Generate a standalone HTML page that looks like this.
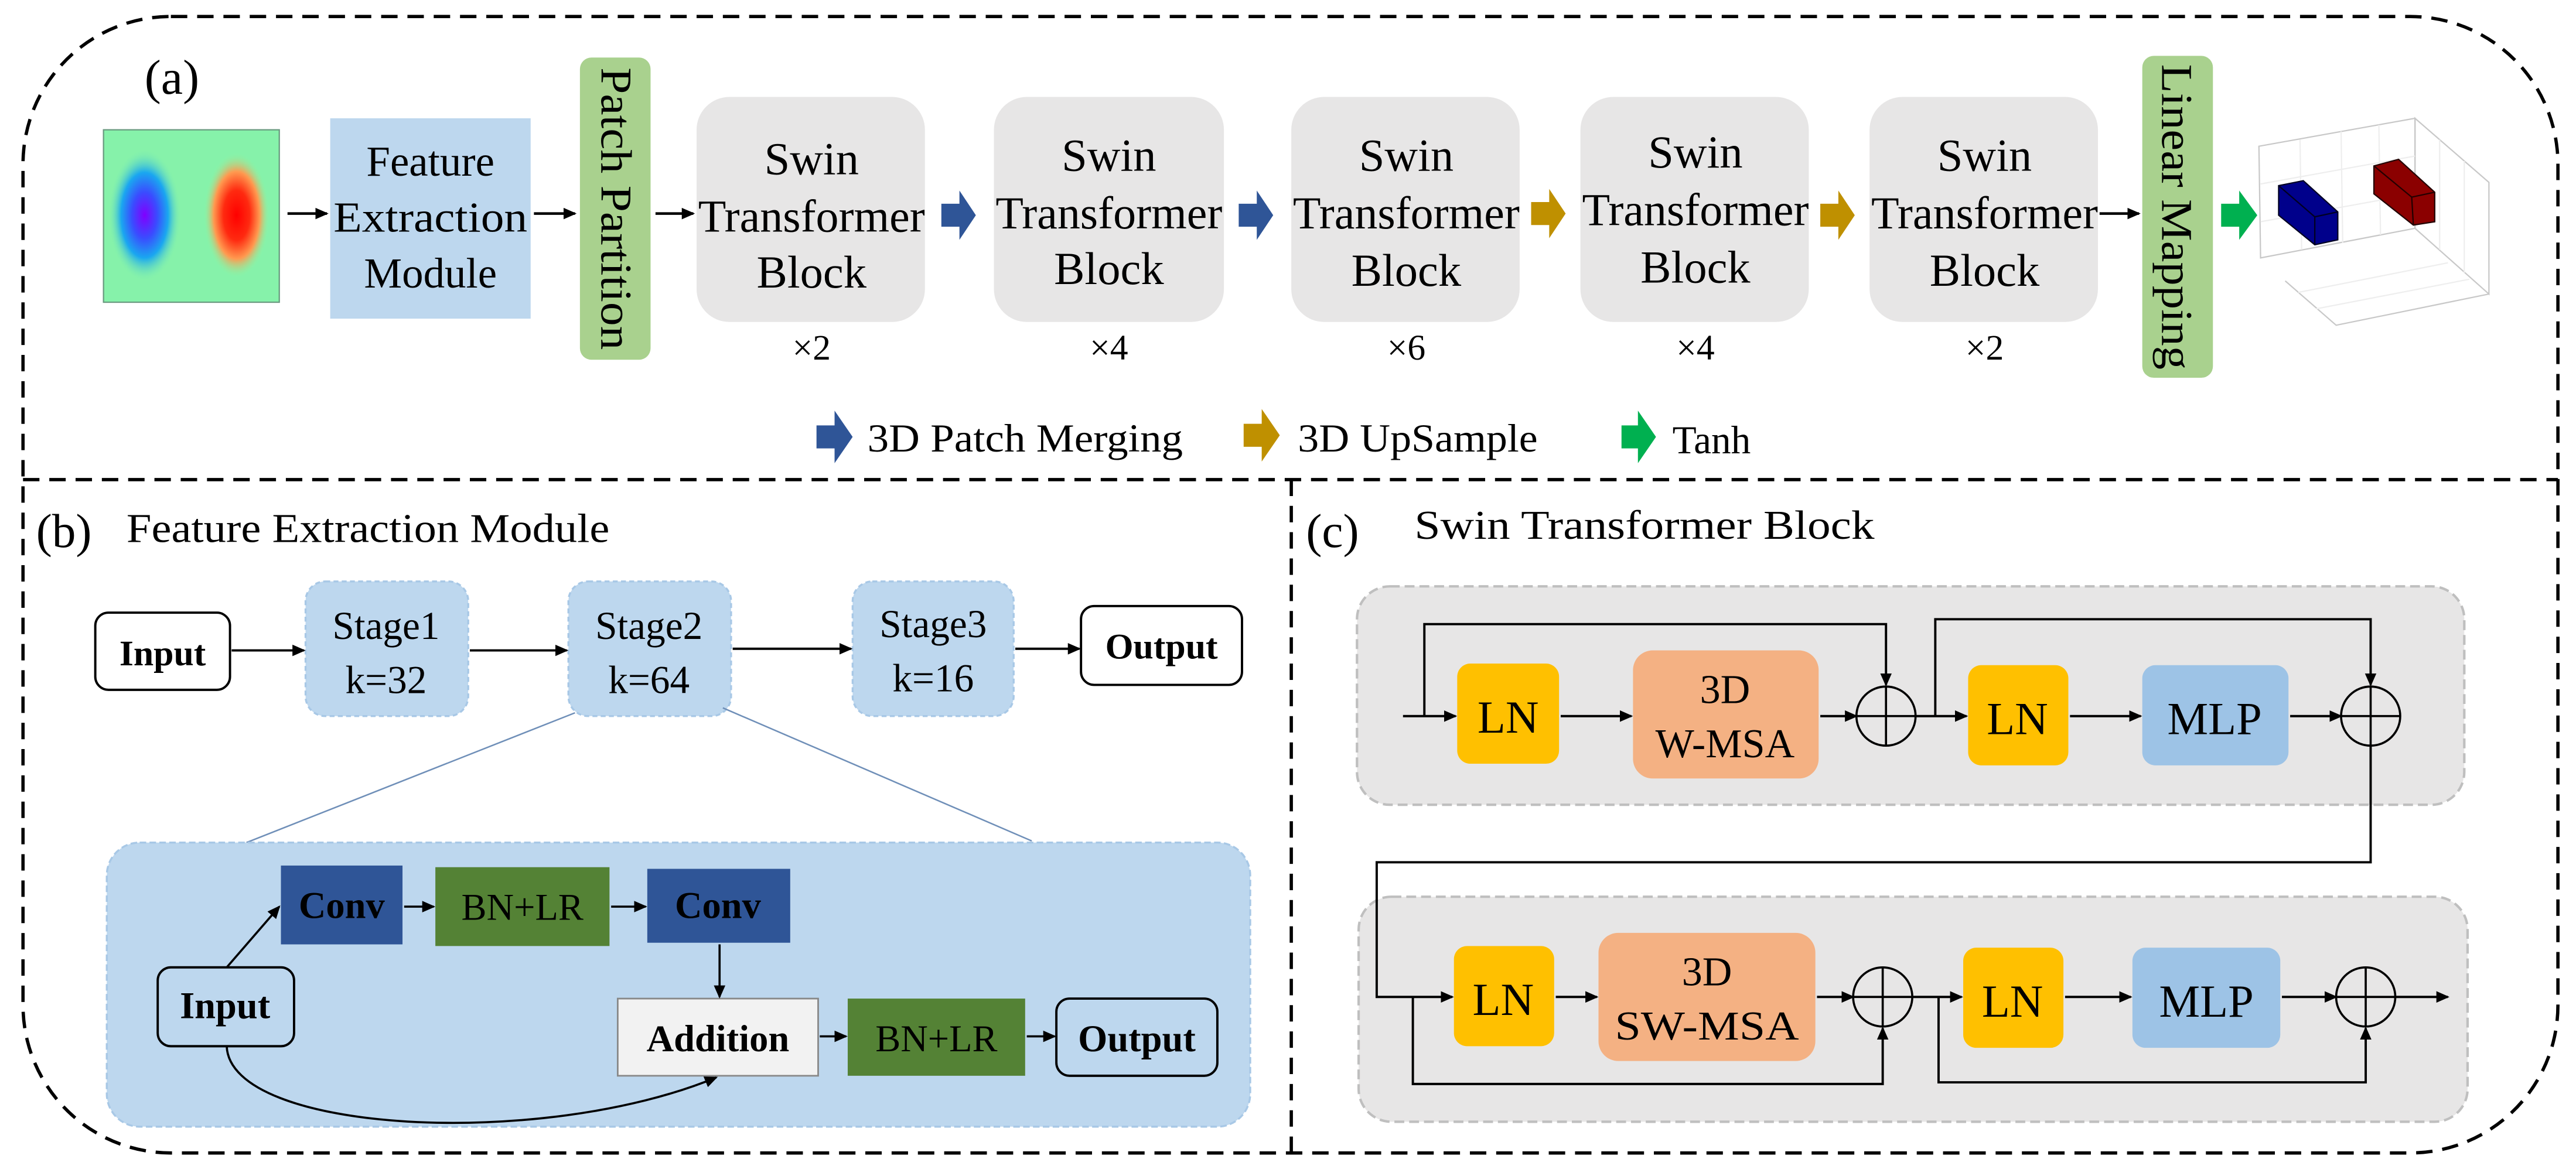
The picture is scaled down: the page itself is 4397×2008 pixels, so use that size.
<!DOCTYPE html>
<html><head><meta charset="utf-8"><style>
html,body{margin:0;padding:0;background:#fff;}
svg{display:block;font-family:"Liberation Serif","Times New Roman",serif;}
svg text{font-family:"Liberation Serif","Times New Roman",serif;fill:#000;}
</style></head><body>
<svg xmlns="http://www.w3.org/2000/svg" width="4397" height="2008" viewBox="0 0 1568 716" font-family="Liberation Serif, serif">
<defs>
<marker id="ah" markerWidth="8" markerHeight="8" refX="7" refY="4" orient="auto" markerUnits="userSpaceOnUse"><path d="M0,0.5 L8,4 L0,7.5 Z" fill="#000"/></marker>
<radialGradient id="gb" cx="0.5" cy="0.5" r="0.5"><stop offset="0" stop-color="#8000ff"/><stop offset="0.35" stop-color="#3a4cff"/><stop offset="0.65" stop-color="#1aa7f0"/><stop offset="1" stop-color="#7ff0b0" stop-opacity="0"/></radialGradient>
<radialGradient id="gr" cx="0.5" cy="0.5" r="0.5"><stop offset="0" stop-color="#ff0000"/><stop offset="0.4" stop-color="#ff2a10"/><stop offset="0.7" stop-color="#ff9a50"/><stop offset="1" stop-color="#90f5a0" stop-opacity="0"/></radialGradient>
</defs>

<!-- outer frame -->
<rect x="14" y="10" width="1543" height="692" rx="90" ry="90" fill="none" stroke="#000" stroke-width="2" stroke-dasharray="10,6"/>
<line x1="14" y1="292" x2="1557" y2="292" stroke="#000" stroke-width="2" stroke-dasharray="10,6"/>
<line x1="786" y1="292" x2="786" y2="702" stroke="#000" stroke-width="2" stroke-dasharray="10,6"/>

<!-- (a) -->
<text x="88" y="57" font-size="30" font-family="Liberation Serif, serif">(a)</text>
<rect x="63" y="79" width="107" height="105" fill="#86f2aa" stroke="#6a9a80" stroke-width="0.8"/>
<ellipse cx="88" cy="131" rx="22" ry="40" fill="url(#gb)"/>
<ellipse cx="144" cy="131" rx="20" ry="38" fill="url(#gr)"/>
<line x1="175" y1="130" x2="199" y2="130" stroke="#000" stroke-width="1.6" marker-end="url(#ah)"/>
<rect x="201" y="72" width="122" height="122" fill="#bdd7ee"/>
<g font-family="Liberation Serif, serif">
<text x="262" y="107" font-size="26" text-anchor="middle">Feature</text>
<text x="262" y="141" font-size="26" text-anchor="middle" textLength="118" lengthAdjust="spacingAndGlyphs">Extraction</text>
<text x="262" y="175" font-size="26" text-anchor="middle">Module</text>
</g>
<line x1="325" y1="130" x2="350" y2="130" stroke="#000" stroke-width="1.6" marker-end="url(#ah)"/>
<rect x="353" y="35" width="43" height="184" rx="7" fill="#a9d18e"/>
<text transform="translate(366,127) rotate(90)" font-size="27" font-family="Liberation Serif, serif" text-anchor="middle" textLength="172" lengthAdjust="spacingAndGlyphs">Patch Partition</text>
<line x1="399" y1="130" x2="422" y2="130" stroke="#000" stroke-width="1.6" marker-end="url(#ah)"/>

<g fill="#e7e6e6">
<rect x="424" y="59" width="139" height="137" rx="20"/>
<rect x="605" y="59" width="140" height="137" rx="20"/>
<rect x="786" y="59" width="139" height="137" rx="20"/>
<rect x="962" y="59" width="139" height="137" rx="20"/>
<rect x="1138" y="59" width="139" height="137" rx="20"/>
</g>
<g font-size="28" text-anchor="middle" font-family="Liberation Serif, serif">
<text x="494" y="106">Swin</text><text x="494" y="141" textLength="138" lengthAdjust="spacingAndGlyphs">Transformer</text><text x="494" y="175">Block</text><text x="494" y="219" font-size="22">×2</text>
<text x="675" y="104">Swin</text><text x="675" y="139" textLength="138" lengthAdjust="spacingAndGlyphs">Transformer</text><text x="675" y="173">Block</text><text x="675" y="219" font-size="22">×4</text>
<text x="856" y="104">Swin</text><text x="856" y="139" textLength="138" lengthAdjust="spacingAndGlyphs">Transformer</text><text x="856" y="174">Block</text><text x="856" y="219" font-size="22">×6</text>
<text x="1032" y="102">Swin</text><text x="1032" y="137" textLength="138" lengthAdjust="spacingAndGlyphs">Transformer</text><text x="1032" y="172">Block</text><text x="1032" y="219" font-size="22">×4</text>
<text x="1208" y="104">Swin</text><text x="1208" y="139" textLength="138" lengthAdjust="spacingAndGlyphs">Transformer</text><text x="1208" y="174">Block</text><text x="1208" y="219" font-size="22">×2</text>
</g>
<!-- block arrows -->
<g>
<path d="M573,124 L584,124 L584,116 L594,131 L584,146 L584,138 L573,138 Z" fill="#2f5597"/>
<path d="M754,124 L765,124 L765,116 L775,131 L765,146 L765,138 L754,138 Z" fill="#2f5597"/>
<path d="M932,123 L943,123 L943,115 L953,130 L943,145 L943,137 L932,137 Z" fill="#bf9000"/>
<path d="M1108,124 L1119,124 L1119,116 L1129,131 L1119,146 L1119,138 L1108,138 Z" fill="#bf9000"/>
<path d="M1352,124 L1363,124 L1363,116 L1374,131 L1363,146 L1363,138 L1352,138 Z" fill="#00b050"/>
</g>
<line x1="1278" y1="130" x2="1302" y2="130" stroke="#000" stroke-width="1.6" marker-end="url(#ah)"/>
<rect x="1304" y="34" width="43" height="196" rx="7" fill="#a9d18e"/>
<text transform="translate(1316,132) rotate(90)" font-size="27" font-family="Liberation Serif, serif" text-anchor="middle" textLength="186" lengthAdjust="spacingAndGlyphs">Linear Mapping</text>

<!-- 3D plot -->
<g fill="none" stroke="#c8c8c8" stroke-width="0.8">
<polygon points="1375,89 1470,72 1470,139 1376,157"/>
<polygon points="1470,72 1515,111 1515,179 1470,139"/>
<polyline points="1391,171 1422,198 1515,179"/>
<line x1="1400" y1="85" x2="1401" y2="152" stroke="#eee"/><line x1="1425" y1="80" x2="1426" y2="148" stroke="#eee"/><line x1="1448" y1="76" x2="1449" y2="143" stroke="#eee"/>
<line x1="1376" y1="112" x2="1470" y2="95" stroke="#eee"/><line x1="1376" y1="135" x2="1470" y2="118" stroke="#eee"/>
<line x1="1485" y1="85" x2="1485" y2="152" stroke="#eee"/><line x1="1500" y1="98" x2="1500" y2="166" stroke="#eee"/>
<line x1="1399" y1="178" x2="1490" y2="160" stroke="#eee"/><line x1="1410" y1="188" x2="1503" y2="170" stroke="#eee"/>
</g>
<polygon points="1387,113 1402,110 1423,129 1423,146 1409,149 1387,131" fill="#00008b" stroke="#000022" stroke-width="0.8"/>
<polyline points="1387,113 1409,132 1423,129" fill="none" stroke="#000022" stroke-width="0.8"/>
<line x1="1409" y1="132" x2="1409" y2="149" stroke="#000022" stroke-width="0.8"/>
<polygon points="1445,101 1460,97 1482,117 1482,135 1469,137 1445,118" fill="#8b0000" stroke="#220000" stroke-width="0.8"/>
<polyline points="1445,101 1468,120 1482,117" fill="none" stroke="#220000" stroke-width="0.8"/>
<line x1="1468" y1="120" x2="1469" y2="137" stroke="#220000" stroke-width="0.8"/>

<!-- legend -->
<g font-family="Liberation Serif, serif">
<path d="M497,259 L508,259 L508,250 L519,266 L508,282 L508,273 L497,273 Z" fill="#2f5597"/>
<text x="528" y="275" font-size="24" textLength="192" lengthAdjust="spacingAndGlyphs">3D Patch Merging</text>
<path d="M757,258 L768,258 L768,249 L779,265 L768,281 L768,272 L757,272 Z" fill="#bf9000"/>
<text x="790" y="275" font-size="24" textLength="146" lengthAdjust="spacingAndGlyphs">3D UpSample</text>
<path d="M987,259 L997,259 L997,250 L1008,266 L997,282 L997,273 L987,273 Z" fill="#00b050"/>
<text x="1018" y="276" font-size="24">Tanh</text>
</g>

<!-- (b) -->
<g font-family="Liberation Serif, serif">
<text x="22" y="333" font-size="29">(b)</text>
<text x="77" y="330" font-size="25" textLength="294" lengthAdjust="spacingAndGlyphs">Feature Extraction Module</text>
</g>
<rect x="58" y="373" width="82" height="47" rx="8" fill="#fff" stroke="#000" stroke-width="1.4"/>
<text x="99" y="405" font-size="22" font-weight="bold" text-anchor="middle" font-family="Liberation Serif, serif">Input</text>
<g fill="#bdd7ee" stroke="#a8c8e6" stroke-width="1.2" stroke-dasharray="3,2">
<rect x="186" y="354" width="99" height="82" rx="12"/>
<rect x="346" y="354" width="99" height="82" rx="12"/>
<rect x="519" y="354" width="98" height="82" rx="12"/>
</g>
<g font-size="24" text-anchor="middle" font-family="Liberation Serif, serif">
<text x="235" y="389">Stage1</text><text x="235" y="422">k=32</text>
<text x="395" y="389">Stage2</text><text x="395" y="422">k=64</text>
<text x="568" y="388">Stage3</text><text x="568" y="421">k=16</text>
</g>
<rect x="658" y="369" width="98" height="48" rx="8" fill="#fff" stroke="#000" stroke-width="1.4"/>
<text x="707" y="401" font-size="22" font-weight="bold" text-anchor="middle" font-family="Liberation Serif, serif">Output</text>
<g stroke="#000" stroke-width="1.4" fill="none" marker-end="url(#ah)">
<line x1="141" y1="396" x2="185" y2="396"/>
<line x1="286" y1="396" x2="345" y2="396"/>
<line x1="446" y1="395" x2="518" y2="395"/>
<line x1="618" y1="395" x2="657" y2="395"/>
</g>
<line x1="350" y1="434" x2="150" y2="513" stroke="#6f8fb8" stroke-width="0.9"/>
<line x1="440" y1="431" x2="628" y2="512" stroke="#6f8fb8" stroke-width="0.9"/>
<rect x="65" y="513" width="696" height="173" rx="20" fill="#bdd7ee" stroke="#a8c8e6" stroke-width="1.2" stroke-dasharray="4,2"/>
<rect x="171" y="527" width="74" height="48" fill="#2f5597"/>
<rect x="265" y="528" width="106" height="48" fill="#548235"/>
<rect x="394" y="529" width="87" height="45" fill="#2f5597"/>
<rect x="96" y="589" width="83" height="48" rx="8" fill="#bdd7ee" stroke="#000" stroke-width="1.4"/>
<rect x="376" y="608" width="122" height="47" fill="#f2f2f2" stroke="#888" stroke-width="1"/>
<rect x="516" y="608" width="108" height="47" fill="#548235"/>
<rect x="643" y="608" width="98" height="47" rx="8" fill="#bdd7ee" stroke="#000" stroke-width="1.4"/>
<g font-size="23" text-anchor="middle" font-family="Liberation Serif, serif">
<text x="208" y="559" fill="#fff" font-weight="bold">Conv</text>
<text x="318" y="560" fill="#fff">BN+LR</text>
<text x="437" y="559" fill="#fff" font-weight="bold">Conv</text>
<text x="137" y="620" font-weight="bold">Input</text>
<text x="437" y="640" font-weight="bold">Addition</text>
<text x="570" y="640" fill="#fff">BN+LR</text>
<text x="692" y="640" font-weight="bold">Output</text>
</g>
<g stroke="#000" stroke-width="1.3" fill="none" marker-end="url(#ah)">
<line x1="138" y1="589" x2="170" y2="552"/>
<line x1="246" y1="552" x2="264" y2="552"/>
<line x1="372" y1="552" x2="393" y2="552"/>
<line x1="438" y1="575" x2="438" y2="607"/>
<line x1="499" y1="631" x2="515" y2="631"/>
<line x1="625" y1="631" x2="642" y2="631"/>
<path d="M138,637 C140,690 330,700 436,656"/>
</g>

<!-- (c) -->
<g font-family="Liberation Serif, serif">
<text x="795" y="333" font-size="29">(c)</text>
<text x="861" y="328" font-size="25" textLength="280" lengthAdjust="spacingAndGlyphs">Swin Transformer Block</text>
</g>
<rect x="826" y="357" width="674" height="133" rx="20" fill="#e7e6e6" stroke="#bfbfbf" stroke-width="1.5" stroke-dasharray="6,3"/>
<rect x="827" y="546" width="675" height="137" rx="20" fill="#e7e6e6" stroke="#bfbfbf" stroke-width="1.5" stroke-dasharray="6,3"/>
<g fill="#ffc000">
<rect x="887" y="404" width="62" height="61" rx="8"/>
<rect x="1198" y="405" width="61" height="61" rx="8"/>
<rect x="885" y="576" width="61" height="61" rx="8"/>
<rect x="1195" y="577" width="61" height="61" rx="8"/>
</g>
<rect x="994" y="396" width="113" height="78" rx="12" fill="#f4b183"/>
<rect x="973" y="568" width="132" height="78" rx="12" fill="#f4b183"/>
<rect x="1304" y="405" width="89" height="61" rx="8" fill="#9dc3e6"/>
<rect x="1298" y="577" width="90" height="61" rx="8" fill="#9dc3e6"/>
<g font-size="28" text-anchor="middle" font-family="Liberation Serif, serif">
<text x="918" y="446">LN</text><text x="1228" y="447">LN</text>
<text x="915" y="618">LN</text><text x="1225" y="619">LN</text>
<text x="1050" y="428" font-size="25">3D</text><text x="1050" y="461" font-size="25">W-MSA</text>
<text x="1039" y="600" font-size="25">3D</text><text x="1039" y="633" font-size="25" textLength="112" lengthAdjust="spacingAndGlyphs">SW-MSA</text>
<text x="1348" y="447">MLP</text><text x="1343" y="619">MLP</text>
</g>
<g fill="none" stroke="#000" stroke-width="1.3">
<circle cx="1148" cy="436" r="18"/><line x1="1130" y1="436" x2="1166" y2="436"/><line x1="1148" y1="418" x2="1148" y2="454"/>
<circle cx="1443" cy="436" r="18"/><line x1="1425" y1="436" x2="1461" y2="436"/><line x1="1443" y1="418" x2="1443" y2="454"/>
<circle cx="1146" cy="607" r="18"/><line x1="1128" y1="607" x2="1164" y2="607"/><line x1="1146" y1="589" x2="1146" y2="625"/>
<circle cx="1440" cy="607" r="18"/><line x1="1422" y1="607" x2="1458" y2="607"/><line x1="1440" y1="589" x2="1440" y2="625"/>
</g>
<g fill="none" stroke="#000" stroke-width="1.4" marker-end="url(#ah)">
<line x1="854" y1="436" x2="886" y2="436"/>
<polyline points="867,436 867,380 1148,380 1148,417"/>
<line x1="950" y1="436" x2="993" y2="436"/>
<line x1="1108" y1="436" x2="1130" y2="436"/>
<line x1="1166" y1="436" x2="1197" y2="436"/>
<polyline points="1178,436 1178,377 1443,377 1443,417"/>
<line x1="1260" y1="436" x2="1303" y2="436"/>
<line x1="1394" y1="436" x2="1425" y2="436"/>
<polyline points="1443,454 1443,525 838,525 838,607 884,607"/>
<polyline points="860,607 860,660 1146,660 1146,626"/>
<line x1="947" y1="607" x2="972" y2="607"/>
<line x1="1106" y1="607" x2="1128" y2="607"/>
<line x1="1164" y1="607" x2="1194" y2="607"/>
<polyline points="1180,607 1180,659 1440,659 1440,626"/>
<line x1="1257" y1="607" x2="1297" y2="607"/>
<line x1="1389" y1="607" x2="1422" y2="607"/>
<line x1="1458" y1="607" x2="1490" y2="607"/>
</g>
</svg>
</body></html>
